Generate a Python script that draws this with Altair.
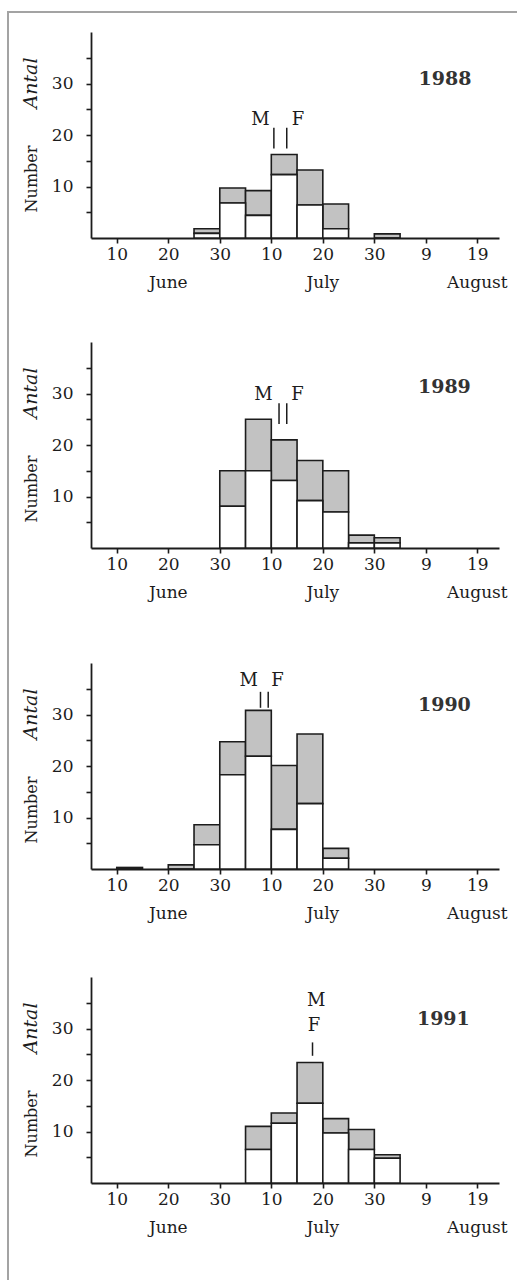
import altair as alt
import pandas as pd

SERIF = "DejaVu Serif"
INK = "#1c1c1c"
SHADE = "#c2c2c2"
FRAME = "#a3a3a3"

# Day numbers are counted from 1 June: 30 = 30 June, 40 = 10 July, 70 = 9 August.
YEARS = ["1988", "1989", "1990", "1991"]
BIN_DAYS = 5

BIN_START = {
    "1988": [25, 30, 35, 40, 45, 50, 60],
    "1989": [30, 35, 40, 45, 50, 55, 60],
    "1990": [10, 20, 25, 30, 35, 40, 45, 50],
    "1991": [35, 40, 45, 50, 55, 60],
}
# open (lower) part of each bar
OPEN_PART = {
    "1988": [0.9, 6.8, 4.4, 12.3, 6.4, 1.8, 0.0],
    "1989": [8.1, 15.0, 13.1, 9.2, 7.0, 1.0, 1.0],
    "1990": [0.0, 0.0, 4.7, 18.3, 21.9, 7.7, 12.7, 2.1],
    "1991": [6.5, 11.6, 15.5, 9.7, 6.5, 4.8],
}
# full bar height (open part + shaded part)
BAR_TOTAL = {
    "1988": [1.8, 9.7, 9.2, 16.2, 13.2, 6.6, 0.8],
    "1989": [15.0, 25.0, 21.0, 17.0, 15.0, 2.5, 2.0],
    "1990": [0.3, 0.8, 8.6, 24.7, 30.8, 20.1, 26.2, 4.0],
    "1991": [11.0, 13.6, 23.4, 12.5, 10.4, 5.5],
}

# median markers: day, lower and upper end of the tick
MARK_DAY = {"1988": [40.5, 43.0], "1989": [41.5, 43.0], "1990": [37.9, 39.4], "1991": [48.0]}
MARK_LO = {"1988": 17.4, "1989": 24.1, "1990": 31.3, "1991": 24.7}
MARK_HI = {"1988": 21.4, "1989": 28.1, "1990": 34.4, "1991": 27.3}

# marker letters
LETTERS = ["M", "F"]
LETTER_DAY = {"1988": [37.9, 45.2], "1989": [38.5, 45.1], "1990": [35.6, 41.2], "1991": [48.7, 48.3]}
LETTER_Y = {"1988": [23.0, 23.0], "1989": [29.7, 29.7], "1990": [36.6, 36.6], "1991": [35.4, 30.5]}

# year captions
YEAR_DAY = {"1988": 73.7, "1989": 73.6, "1990": 73.6, "1991": 73.4}
YEAR_Y = {"1988": 30.9, "1989": 31.3, "1990": 31.9, "1991": 31.9}

# x axis
X_TICKS = [10, 20, 30, 40, 50, 60, 70, 80]
MONTHS = ["June", "July", "August"]
MONTH_DAY = [20, 50, 80]
Y_TICKS = [5, 10, 15, 20, 25, 30, 35]

W, H = 408, 206
# room kept above / below each panel; the frame pieces set each panel's extent
ROOM_ABOVE = [21, 20, 20, 20]
ROOM_BELOW = [84, 95, 88, 97]

XSCALE = alt.Scale(domain=[5, 84.2], nice=False, zero=False)
YSCALE = alt.Scale(domain=[0, 40], nice=False, zero=False)

XAXIS = alt.Axis(
    values=X_TICKS,
    labelExpr="datum.value <= 30 ? datum.value : (datum.value <= 61 ? datum.value - 30 : datum.value - 61)",
    title=None, grid=False, tickSize=5, tickWidth=1.6, domainWidth=1.8,
    tickColor=INK, domainColor=INK, labelColor=INK, labelFont=SERIF,
    labelFontSize=17, labelPadding=3, labelFlush=False, labelOverlap=False,
)
YAXIS = alt.Axis(
    values=Y_TICKS,
    labelExpr="datum.value % 10 == 0 ? datum.value : ''",
    title=None, grid=False, tickSize=5, tickWidth=1.6, domainWidth=1.8,
    tickColor=INK, domainColor=INK, labelColor=INK, labelFont=SERIF,
    labelFontSize=17, labelPadding=13, labelOverlap=False,
)

ONE_ROW = pd.DataFrame({"k": [0]})


def X(field):
    return alt.X(field, type="quantitative", scale=XSCALE, axis=XAXIS)


def Y(field):
    return alt.Y(field, type="quantitative", scale=YSCALE, axis=YAXIS)


def panel(i, year):
    bars = pd.DataFrame({"start": BIN_START[year], "open": OPEN_PART[year], "total": BAR_TOTAL[year]})
    bars["end"] = bars["start"] + BIN_DAYS

    shaded = alt.Chart(bars).mark_rect(fill=SHADE, stroke=INK, strokeWidth=1.6).encode(
        x=X("start"), x2="end", y=Y("total"), y2="open"
    )
    open_bars = alt.Chart(bars).mark_rect(fill="white", stroke=INK, strokeWidth=1.6).encode(
        x=X("start"), x2="end", y=Y("open"), y2=alt.datum(0)
    )

    ticks = pd.DataFrame({"day": MARK_DAY[year]})
    ticks["lo"] = MARK_LO[year]
    ticks["hi"] = MARK_HI[year]
    median_ticks = alt.Chart(ticks).mark_rule(color=INK, strokeWidth=1.5).encode(
        x=X("day"), y=Y("lo"), y2="hi"
    )

    letters = pd.DataFrame({"t": LETTERS, "day": LETTER_DAY[year], "v": LETTER_Y[year]})
    letter_text = alt.Chart(letters).mark_text(
        font=SERIF, fontSize=18, color=INK, baseline="middle", align="center"
    ).encode(x=X("day"), y=Y("v"), text="t:N")

    cap = pd.DataFrame({"t": [year], "day": [YEAR_DAY[year]], "v": [YEAR_Y[year]]})
    year_text = alt.Chart(cap).mark_text(
        font=SERIF, fontSize=19, fontWeight="bold", color="#333333", baseline="middle", align="center"
    ).encode(x=X("day"), y=Y("v"), text="t:N")

    months = pd.DataFrame({"t": MONTHS, "day": MONTH_DAY})
    month_text = alt.Chart(months).mark_text(
        font=SERIF, fontSize=17, color=INK, baseline="middle", align="center"
    ).encode(x=X("day"), y=alt.value(H + 45), text="t:N")

    title_a = alt.Chart(ONE_ROW).mark_text(
        text="Number", angle=270, font=SERIF, fontSize=16, color=INK,
        align="center", baseline="alphabetic"
    ).encode(x=alt.value(-54), y=alt.value(147))
    title_b = alt.Chart(ONE_ROW).mark_text(
        text="Antal", angle=270, font=SERIF, fontSize=19, fontStyle="italic", color=INK,
        align="center", baseline="alphabetic"
    ).encode(x=alt.value(-54), y=alt.value(51))

    # left edge of the surrounding frame, one filled strip per panel
    edge = alt.Chart(ONE_ROW).mark_rect(fill=FRAME, strokeWidth=0).encode(
        x=alt.value(-84), x2=alt.value(-82),
        y=alt.value(-ROOM_ABOVE[i]), y2=alt.value(H + ROOM_BELOW[i]),
    )
    layers = [edge, shaded, open_bars, median_ticks, letter_text, year_text, month_text, title_a, title_b]
    if i == 0:
        top_edge = alt.Chart(ONE_ROW).mark_rect(fill=FRAME, strokeWidth=0).encode(
            x=alt.value(-84), x2=alt.value(426), y=alt.value(-21), y2=alt.value(-19)
        )
        layers.insert(0, top_edge)
    return alt.layer(*layers).properties(width=W, height=H)


chart = alt.vconcat(*[panel(i, y) for i, y in enumerate(YEARS)], spacing=0).properties(
    padding={"left": 7, "top": 11, "right": 0, "bottom": 0}
).configure_view(stroke=None)

chart.save("out.html", embed_options={"renderer": "svg", "actions": False})
